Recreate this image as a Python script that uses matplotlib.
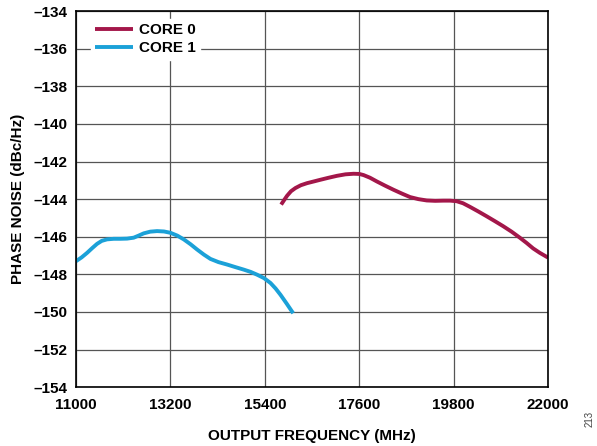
import matplotlib
matplotlib.use('Agg')
import matplotlib.pyplot as plt

plt.rcParams['font.family'] = ['Liberation Sans', 'DejaVu Sans']

# values
core0_freq = [15780, 15850, 15919, 16010, 16113, 16240, 16384, 16540, 16694, 16890, 17081, 17280,
              17468, 17600, 17701, 17850, 18011, 18200, 18398, 18600, 18785, 18980, 19173, 19370,
              19560, 19720, 19870, 20020, 20180, 20370, 20568, 20760, 20955, 21150, 21342, 21500,
              21652, 21810, 21962, 22000]
core0_pn = [-144.29, -144.05, -143.82, -143.58, -143.41, -143.26, -143.15, -143.06, -142.97, -142.86,
            -142.76, -142.68, -142.65, -142.66, -142.72, -142.86, -143.06, -143.28, -143.50, -143.71,
            -143.89, -144.00, -144.07, -144.09, -144.08, -144.08, -144.11, -144.22, -144.41, -144.65,
            -144.91, -145.17, -145.44, -145.73, -146.05, -146.33, -146.62, -146.86, -147.06, -147.11]

core1_freq = [11000, 11130, 11257, 11380, 11490, 11600, 11723, 11880, 12034, 12190, 12345, 12460,
              12578, 12730, 12889, 13050, 13200, 13360, 13511, 13670, 13822, 13980, 14133, 14320,
              14522, 14720, 14910, 15070, 15221, 15380, 15532, 15650, 15766, 15910, 16061]
core1_pn = [-147.30, -147.10, -146.86, -146.60, -146.38, -146.22, -146.14, -146.11, -146.11, -146.10,
            -146.05, -145.94, -145.82, -145.73, -145.70, -145.72, -145.79, -145.94, -146.14, -146.40,
            -146.68, -146.95, -147.18, -147.35, -147.48, -147.62, -147.75, -147.87, -148.02, -148.20,
            -148.46, -148.75, -149.09, -149.56, -150.07]

xticks = [11000, 13200, 15400, 17600, 19800, 22000]
yticks = list(range(-154, -133, 2))

fig = plt.figure(figsize=(5.97, 4.46), dpi=100)
ax = fig.add_axes([0.1273, 0.132, 0.9180 - 0.1273, 0.975 - 0.132])

ax.plot(core0_freq, core0_pn, color='#a3174a', lw=2.8, label='CORE 0',
        solid_capstyle='butt', solid_joinstyle='round')
ax.plot(core1_freq, core1_pn, color='#1ba1d8', lw=2.8, label='CORE 1',
        solid_capstyle='butt', solid_joinstyle='round')

ax.set_xlim(11000, 22000)
ax.set_ylim(-154, -134)
ax.set_xticks(xticks)
ax.set_yticks(yticks)
ax.set_yticklabels([f'\u2013{abs(v)}' for v in yticks])
ax.grid(True, color='#555555', lw=0.9)
ax.tick_params(length=0, labelsize=11)
ax.tick_params(axis='x', pad=8)
ax.tick_params(axis='y', pad=6)
for lbl in ax.get_xticklabels() + ax.get_yticklabels():
    lbl.set_fontweight('bold')
for s in ax.spines.values():
    s.set_linewidth(1.2)
    s.set_color('black')

ax.set_xlabel('OUTPUT FREQUENCY (MHz)', fontsize=11, fontweight='bold', labelpad=12)
ax.set_ylabel('PHASE NOISE (dBc/Hz)', fontsize=11, fontweight='bold', labelpad=6)

leg = ax.legend(loc='upper left', frameon=True, fontsize=11, handlelength=2.5,
                borderpad=0.3, labelspacing=0.25, handletextpad=0.35,
                bbox_to_anchor=(0.015, 1.0))
leg.get_frame().set_facecolor('white')
leg.get_frame().set_edgecolor('white')
leg.get_frame().set_alpha(1)
for t in leg.get_texts():
    t.set_fontweight('bold')

fig.text(0.988, 0.06, '213', rotation=90, fontsize=7, color='#444444', ha='center', va='center')

fig.savefig('out.png', dpi=100)
